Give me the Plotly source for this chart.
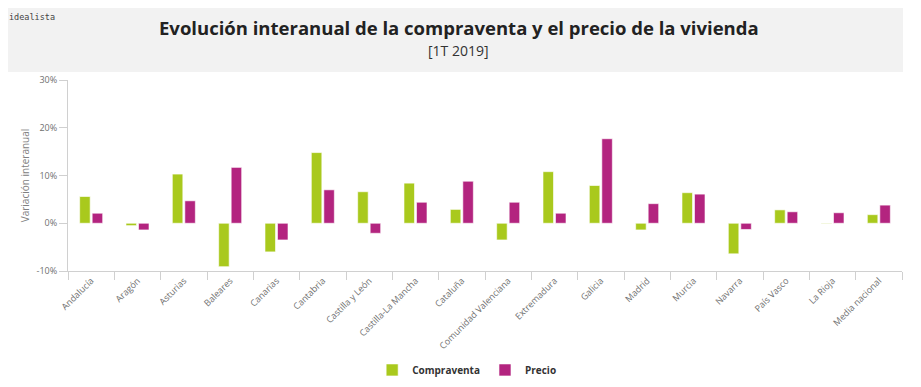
import plotly.graph_objects as go

regiones = ["Andalucía", "Aragón", "Asturias", "Baleares", "Canarias", "Cantabria",
            "Castilla y León", "Castilla-La Mancha", "Cataluña", "Comunidad Valenciana",
            "Extremadura", "Galicia", "Madrid", "Murcia", "Navarra", "País Vasco",
            "La Rioja", "Media nacional"]
compraventa = [5.6, -0.5, 10.3, -9.1, -6.0, 14.8, 6.6, 8.4, 2.9, -3.5,
               10.8, 7.9, -1.4, 6.4, -6.4, 2.8, -0.1, 1.8]
precio = [2.1, -1.4, 4.7, 11.7, -3.5, 7.0, -2.1, 4.4, 8.8, 4.4,
          2.1, 17.7, 4.1, 6.1, -1.3, 2.4, 2.2, 3.8]
y_ticks = [-10, 0, 10, 20, 30]
y_tick_labels = ["-10%", "0%", "10%", "20%", "30%"]

FONT = "Open Sans"
GREEN = "#a9c91d"
MAGENTA = "#b3247f"

fig = go.Figure()
fig.add_trace(go.Bar(x=regiones, y=compraventa, name="Compraventa",
                     marker=dict(color=GREEN, line=dict(color="rgba(255,255,255,0.6)", width=1))))
fig.add_trace(go.Bar(x=regiones, y=precio, name="Precio",
                     marker=dict(color=MAGENTA, line=dict(color="rgba(255,255,255,0.6)", width=1))))

# the page adds an 8px body margin, so the figure is 8px smaller than the window
fig.update_layout(
    width=913, height=379,
    margin=dict(l=60, r=19, t=72, b=116, autoexpand=False),
    paper_bgcolor="white", plot_bgcolor="white",
    font=dict(family=FONT, color="#666666", size=9),
    barmode="group", bargap=0.46, bargroupgap=0.16,
    showlegend=True,
    legend=dict(orientation="h", x=0.478, y=-0.518, xanchor="center", yanchor="middle",
                font=dict(family=FONT, size=10, color="#333333", weight="bold"),
                itemwidth=30, traceorder="normal"),
    xaxis=dict(showgrid=False, showline=True, linecolor="#d0d0d0", linewidth=1,
               ticks="outside", tickson="boundaries", ticklen=8, tickcolor="#d0d0d0",
               tickangle=-45, tickfont=dict(size=9, color="#707070"), zeroline=False,
               automargin=False),
    yaxis=dict(range=[-10, 30], tickvals=y_ticks, ticktext=y_tick_labels, showgrid=False,
               showline=True, linecolor="#d0d0d0", linewidth=1,
               ticks="outside", ticklen=8, tickcolor="#d0d0d0", zeroline=False,
               tickfont=dict(size=9, color="#707070"), automargin=False,
               title=dict(text="Variación interanual", standoff=5,
                          font=dict(size=10, color="#808080"))),
    shapes=[dict(type="rect", xref="paper", yref="paper", x0=-0.0731, x1=1.0012,
                 y0=1.042, y1=1.382, fillcolor="#f2f2f2", line=dict(width=0), layer="below")],
    annotations=[
        dict(text="<b>Evolución interanual de la compraventa y el precio de la vivienda</b>",
             xref="paper", yref="paper", x=0.4688, y=1.277, xanchor="center", yanchor="middle",
             showarrow=False, font=dict(family=FONT, size=18.5, color="#222222")),
        dict(text="[1T 2019]", xref="paper", yref="paper", x=0.4688, y=1.157,
             xanchor="center", yanchor="middle", showarrow=False,
             font=dict(family=FONT, size=14, color="#333333")),
        dict(text="idealista", xref="paper", yref="paper", x=-0.0731, y=1.330,
             xanchor="left", yanchor="middle", showarrow=False,
             font=dict(family="DejaVu Sans Mono", size=8.5, color="#444444")),
    ],
)

fig.write_html("out.html")
